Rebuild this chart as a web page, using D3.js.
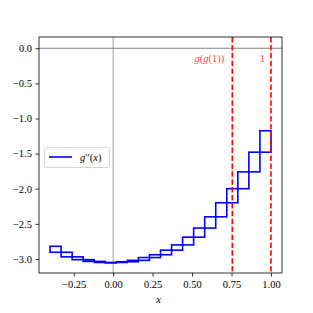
<!DOCTYPE html>
<html>
<head>
  <meta charset="UTF-8">
  <script src="https://d3js.org/d3.v7.min.js"></script>
  <style>
    body { margin: 0; background: #fff; }
    svg { display: block; }
    svg text { font-family: "Liberation Serif", "DejaVu Serif", "Times New Roman", serif !important; }
  </style>
</head>
<body>
  <svg id="chart" width="313" height="313"></svg>
  <script>
    // grid points and the values of g'' at them
    const gridX = [-0.40, -0.33, -0.26, -0.19, -0.12, -0.05, 0.02, 0.09, 0.16, 0.23, 0.30,
                   0.37, 0.44, 0.51, 0.58, 0.65, 0.72, 0.79, 0.86, 0.93, 1.00];
    const gridY = [-2.82, -2.905, -2.97, -3.01, -3.035, -3.05, -3.05, -3.04, -3.02, -2.98, -2.94,
                   -2.875, -2.80, -2.69, -2.56, -2.40, -2.20, -2.00, -1.76, -1.48, -1.175];
    const markers = [0.755, 1.0];
    const xTicks = [-0.25, 0, 0.25, 0.5, 0.75, 1.0];
    const yTicks = [0, -0.5, -1, -1.5, -2, -2.5, -3];

    const svg = d3.select("#chart");
    const pLeft = 39, pRight = 282, pTop = 37, pBottom = 273;
    const x = d3.scaleLinear().domain([-0.47, 1.07]).range([pLeft, pRight]);
    const y = d3.scaleLinear().domain([-3.2, 0.16]).range([pBottom, pTop]);
    const fmt = v => (v < 0 ? "\u2212" : "") + Math.abs(v).toFixed(2);
    const fmtY = v => (v < 0 ? "\u2212" : "") + Math.abs(v).toFixed(1);

    // reference lines
    svg.append("line").attr("x1", pLeft).attr("x2", pRight).attr("y1", y(0)).attr("y2", y(0))
      .attr("stroke", "#808080").attr("stroke-width", 1);
    svg.append("line").attr("x1", x(0)).attr("x2", x(0)).attr("y1", pTop).attr("y2", pBottom)
      .attr("stroke", "#808080").attr("stroke-width", 0.8);

    // interval boxes
    const boxes = d3.range(gridX.length - 1).map(i => ({
      x0: gridX[i], x1: gridX[i + 1],
      lo: Math.min(gridY[i], gridY[i + 1]), hi: Math.max(gridY[i], gridY[i + 1])
    }));
    svg.append("g").selectAll("rect").data(boxes).join("rect")
      .attr("x", d => x(d.x0)).attr("width", d => x(d.x1) - x(d.x0))
      .attr("y", d => y(d.hi)).attr("height", d => Math.max(y(d.lo) - y(d.hi), 0.5))
      .attr("fill", "none").attr("stroke", "blue").attr("stroke-width", 1.6);

    // red dashed markers
    svg.append("g").selectAll("line").data(markers).join("line")
      .attr("x1", d => x(d)).attr("x2", d => x(d)).attr("y1", pTop).attr("y2", pBottom)
      .attr("stroke", "red").attr("stroke-width", 1.6).attr("stroke-dasharray", "5.5,2.4");

    const lab1 = svg.append("text").attr("x", x(markers[0]) - 8).attr("y", 62)
      .attr("text-anchor", "end").attr("fill", "#f44").style("font-size", "10.5px");
    lab1.append("tspan").attr("font-style", "italic").text("g");
    lab1.append("tspan").text("(");
    lab1.append("tspan").attr("font-style", "italic").text("g");
    lab1.append("tspan").text("(1))");
    svg.append("text").attr("x", x(markers[1]) - 6).attr("y", 62)
      .attr("text-anchor", "end").attr("fill", "#f44").style("font-size", "10.5px").text("1");

    // axes
    const xAxis = svg.append("g").attr("transform", `translate(0,${pBottom})`)
      .call(d3.axisBottom(x).tickValues(xTicks).tickFormat(fmt).tickSizeOuter(0).tickSize(3.5).tickPadding(4));
    const yAxis = svg.append("g").attr("transform", `translate(${pLeft},0)`)
      .call(d3.axisLeft(y).tickValues(yTicks).tickFormat(fmtY).tickSizeOuter(0).tickSize(3.5).tickPadding(3.5));
    [xAxis, yAxis].forEach(a => {
      a.select(".domain").remove();
      a.attr("font-family", null);
      a.selectAll("text").style("font-size", "10.5px").attr("fill", "#000");
      a.selectAll("line").attr("stroke", "#000").attr("stroke-width", 0.8);
    });

    svg.append("rect").attr("x", pLeft).attr("y", pTop).attr("width", pRight - pLeft).attr("height", pBottom - pTop)
      .attr("fill", "none").attr("stroke", "#000").attr("stroke-width", 0.8);

    svg.append("text").attr("x", (pLeft + pRight) / 2 - 2).attr("y", 303).attr("text-anchor", "middle")
      .attr("font-style", "italic").style("font-size", "10.5px").text("x");

    // legend
    const leg = svg.append("g");
    leg.append("rect").attr("x", 44.5).attr("y", 147.5).attr("width", 65).attr("height", 20).attr("rx", 2)
      .attr("fill", "#fff").attr("fill-opacity", 0.8).attr("stroke", "#ccc").attr("stroke-width", 0.8);
    leg.append("line").attr("x1", 49).attr("x2", 72).attr("y1", 157).attr("y2", 157)
      .attr("stroke", "blue").attr("stroke-width", 1.6);
    const lt = leg.append("text").attr("x", 80).attr("y", 161).style("font-size", "10.5px");
    lt.append("tspan").attr("font-style", "italic").text("g");
    lt.append("tspan").text("\u2032\u2032(");
    lt.append("tspan").attr("font-style", "italic").text("x");
    lt.append("tspan").text(")");
  </script>
</body>
</html>
